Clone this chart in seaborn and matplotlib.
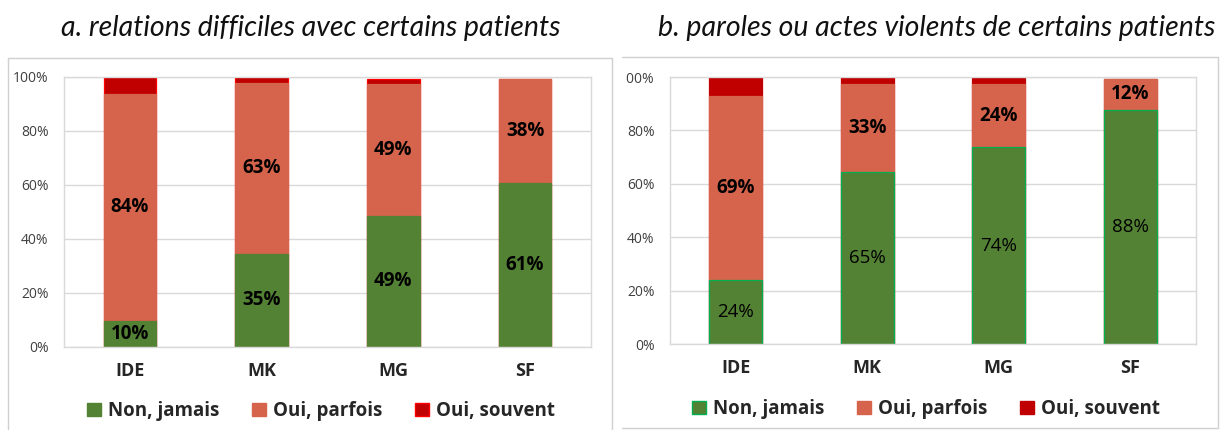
import pandas as pd
import seaborn as sns
import matplotlib.pyplot as plt
from matplotlib.patches import Patch, Rectangle
from matplotlib.lines import Line2D

# Data (percent of respondents)
categories = ["IDE", "MK", "MG", "SF"]
series = ["Non, jamais", "Oui, parfois", "Oui, souvent"]

# a. relations difficiles avec certains patients
a_jamais = [9.6, 34.6, 48.6, 60.8]
a_parfois = [84.2, 63.2, 48.8, 38.4]
a_souvent = [6.2, 2.2, 1.9, 0.0]

# b. paroles ou actes violents de certains patients
b_jamais = [24.0, 64.6, 73.6, 87.6]
b_parfois = [69.0, 32.6, 23.6, 11.8]
b_souvent = [7.0, 2.8, 2.5, 0.0]

titles = ["a. relations difficiles avec certains patients",
          "b. paroles ou actes violents de certains patients"]

GREEN = "#548235"
ORANGE = "#D6634C"
RED = "#C00000"
GRID = "#D9D9D9"

sns.set_style("white")
plt.rcParams["font.family"] = ["Open Sans", "DejaVu Sans"]

W, H = 1231, 430
fig = plt.figure(figsize=(W / 100, H / 100), dpi=100)


def px_rect(x0, y0, x1, y1):
    # pixel box (top-left origin) -> figure fraction [left, bottom, width, height]
    return [x0 / W, 1 - y1 / H, (x1 - x0) / W, (y1 - y0) / H]


def draw(ax, jamais, parfois, souvent, green_edge, red_edge, green_bold):
    df = pd.DataFrame({"cat": categories, "jamais": jamais,
                       "parfois": parfois, "souvent": souvent})
    df["top2"] = df["jamais"] + df["parfois"]
    df["top3"] = df["top2"] + df["souvent"]
    common = dict(data=df, x="cat", order=categories, width=0.4,
                  saturation=1, errorbar=None, ax=ax, linewidth=0.9)
    sns.barplot(y="top3", color=RED, edgecolor=red_edge, **common)
    sns.barplot(y="top2", color=ORANGE, edgecolor=ORANGE, **common)
    sns.barplot(y="jamais", color=GREEN, edgecolor=green_edge, **common)

    for i, row in df.iterrows():
        ax.text(i, row["jamais"] / 2, f"{row['jamais']:.0f}%", ha="center",
                va="center", fontsize=13.5,
                fontweight="bold" if green_bold else "normal", color="black")
        ax.text(i, row["jamais"] + row["parfois"] / 2, f"{row['parfois']:.0f}%",
                ha="center", va="center", fontsize=13.5, fontweight="bold",
                color="black")

    ax.set_ylim(0, 100)
    ax.set_xlim(-0.5, 3.5)
    ax.set_yticks(range(0, 101, 20))
    ax.set_yticklabels([f"{t}%" for t in range(0, 101, 20)], fontsize=10,
                       color="#404040")
    ax.set_xticks(range(len(categories)))
    ax.set_xticklabels(categories, fontsize=13, fontweight="bold")
    ax.tick_params(axis="y", length=0, pad=11)
    ax.tick_params(axis="x", length=0, pad=11)
    ax.set_xlabel("")
    ax.set_ylabel("")
    ax.yaxis.grid(True, color=GRID, linewidth=1)
    ax.set_axisbelow(True)
    for s in ax.spines.values():
        s.set_visible(True)
        s.set_color(GRID)
        s.set_linewidth(1)

    handles = [Patch(facecolor=GREEN, edgecolor=green_edge, label=series[0]),
               Patch(facecolor=ORANGE, edgecolor=ORANGE, label=series[1]),
               Patch(facecolor=RED, edgecolor=red_edge, label=series[2])]
    return handles


ax_a = fig.add_axes(px_rect(64, 77, 591, 347))
ax_b = fig.add_axes(px_rect(670, 77, 1196, 344))

h_a = draw(ax_a, a_jamais, a_parfois, a_souvent, GREEN, "#FF0000", True)
h_b = draw(ax_b, b_jamais, b_parfois, b_souvent, "#00B050", RED, False)

legend_kw = dict(ncol=3, frameon=False, loc="center",
                 prop={"family": ["Open Sans"], "weight": "bold", "size": 13.5},
                 handlelength=0.75, handleheight=0.75, handletextpad=0.4,
                 columnspacing=1.7, borderaxespad=0)
fig.legend(handles=h_a, bbox_to_anchor=(321 / W, 1 - 411 / H), **legend_kw)
fig.legend(handles=h_b, bbox_to_anchor=(926 / W, 1 - 409 / H), **legend_kw)

# titles above each panel
fig.text(311 / W, 1 - 28 / H, titles[0], ha="center", va="center",
         fontsize=20.5, fontstyle="italic", color="#111111",
         family=["Lato", "DejaVu Sans"])
fig.text(937 / W, 1 - 28 / H, titles[1], ha="center", va="center",
         fontsize=20.5, fontstyle="italic", color="#111111",
         family=["Lato", "DejaVu Sans"])

# crop of the right panel's y labels, then the panel frames
fig.add_artist(Rectangle((613 / W, 0), 12 / W, 1 - 58 / H,
                         transform=fig.transFigure, facecolor="white",
                         edgecolor="none", zorder=5))
BOX = "#D0D0D0"
frame_lines = [
    ([8, 8], [58, 431]), ([8, 612], [58, 58]), ([612, 612], [58, 431]),
    ([622, 1218], [57, 57]), ([1218, 1218], [57, 428]), ([622, 1218], [428, 428]),
]
for xs, ys in frame_lines:
    fig.add_artist(Line2D([x / W for x in xs], [1 - y / H for y in ys],
                          transform=fig.transFigure, color=BOX, lw=1, zorder=6))

fig.savefig("out.png", dpi=100)
